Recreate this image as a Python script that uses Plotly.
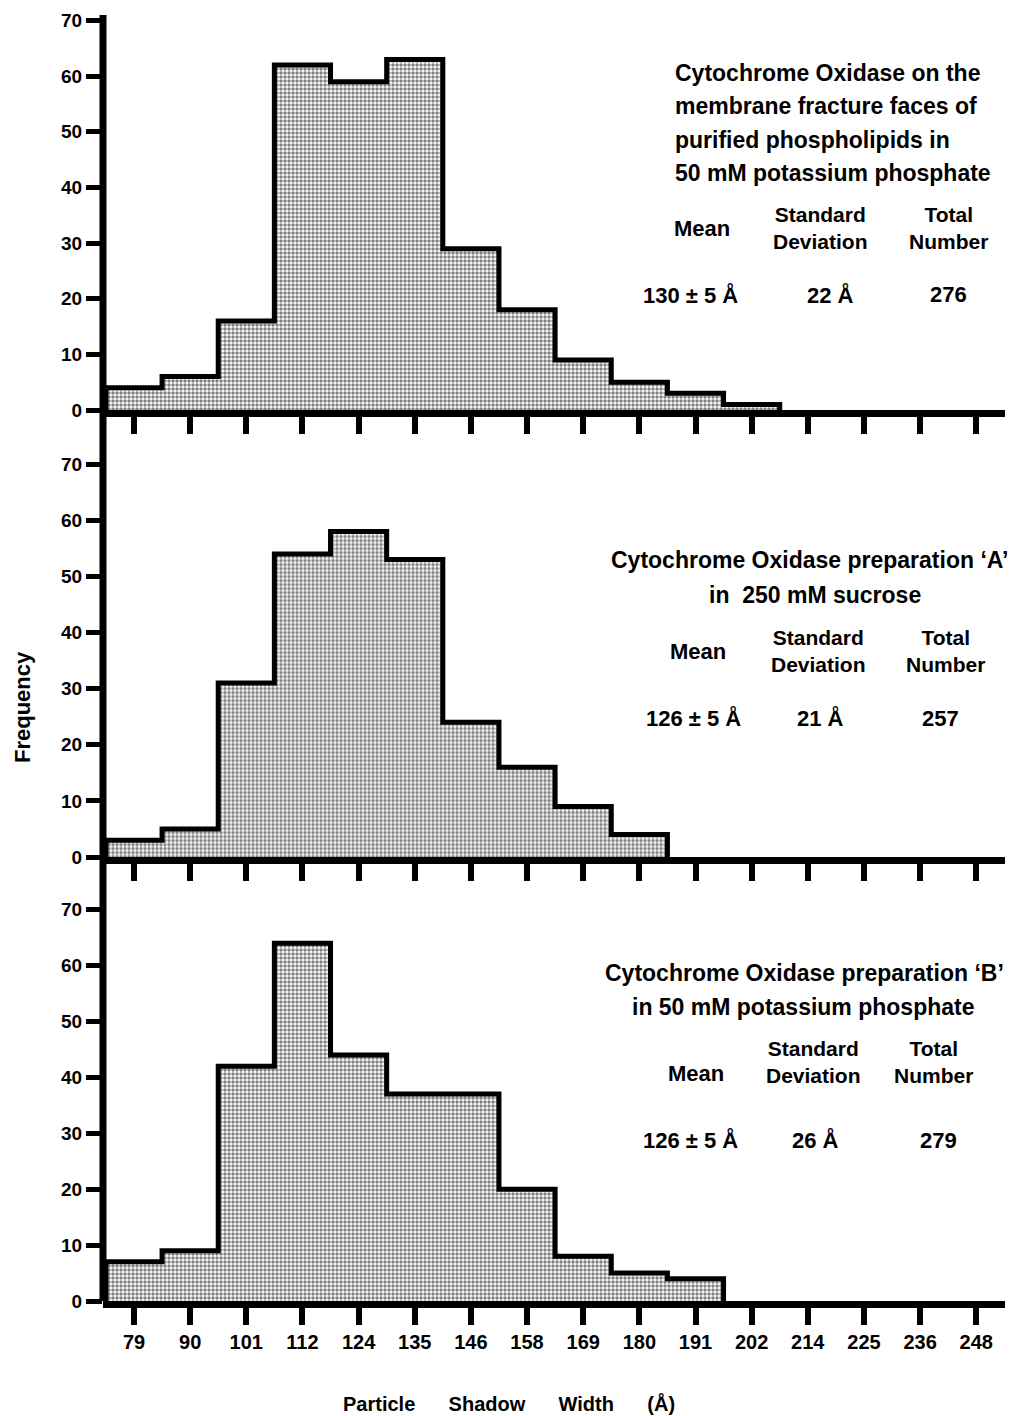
import plotly.graph_objects as go

# ---------------- data ----------------
bin_labels = ["79", "90", "101", "112", "124", "135", "146", "158",
              "169", "180", "191", "202", "214", "225", "236", "248"]

freq_lipid = [4, 6, 16, 62, 59, 63, 29, 18, 9, 5, 3, 1]          # top panel
freq_prep_A = [3, 5, 31, 54, 58, 53, 24, 16, 9, 4]               # middle panel
freq_prep_B = [7, 9, 42, 64, 44, 37, 37, 20, 8, 5, 4]            # bottom panel

y_tick_values = [0, 10, 20, 30, 40, 50, 60, 70]

# ---------------- layout helpers ----------------
W, H = 1011, 1416
L, R, T, B = 103, 1005, 15, 1301          # plot area in px
FONT = "Liberation Sans, Arial, Helvetica, sans-serif"


def P(px, py):
    return (px - L) / (R - L), (B - py) / (B - T)


def step_xy(vals):
    xs, ys = [-0.5], [0]
    for i, v in enumerate(vals):
        xs += [i - 0.5, i + 0.5]
        ys += [v, v]
    xs.append(len(vals) - 0.5)
    ys.append(0)
    return xs, ys


panels = [freq_lipid, freq_prep_A, freq_prep_B]
domains = [[(B - 410) / (B - T), 1.0],
           [(B - 857) / (B - T), (B - 458.6) / (B - T)],
           [0.0, (B - 904) / (B - T)]]

fig = go.Figure()
for k, vals in enumerate(panels, start=1):
    xs, ys = step_xy(vals)
    fig.add_trace(go.Scatter(
        x=xs, y=ys, mode="lines", fill="tozeroy",
        line=dict(color="black", width=5),
        fillcolor="white",
        fillpattern=dict(shape=".", fgcolor="black", bgcolor="white",
                         size=4, solidity=0.58),
        xaxis="x" if k == 1 else f"x{k}",
        yaxis="y" if k == 1 else f"y{k}",
        showlegend=False, hoverinfo="skip"))

layout = dict(width=W, height=H, plot_bgcolor="white", paper_bgcolor="white",
              margin=dict(l=L, r=W - R, t=T, b=H - B), showlegend=False)

for k in range(1, 4):
    xn = "xaxis" if k == 1 else f"xaxis{k}"
    yn = "yaxis" if k == 1 else f"yaxis{k}"
    layout[xn] = dict(
        domain=[0, 1], range=[-0.552, 15.512], anchor="y" if k == 1 else f"y{k}",
        showline=True, linewidth=7, linecolor="black",
        ticks="outside", ticklen=17, tickwidth=6, tickcolor="black",
        tickvals=list(range(len(bin_labels))), ticktext=bin_labels,
        showticklabels=(k == 3),
        tickfont=dict(family=FONT, size=20, color="black", weight="bold"),
        showgrid=False, zeroline=False, fixedrange=True)
    layout[yn] = dict(
        domain=domains[k - 1], range=[0, 71], anchor="x" if k == 1 else f"x{k}",
        showline=False, ticks="outside", ticklen=16, tickwidth=5, tickcolor="black",
        tickvals=y_tick_values,
        tickfont=dict(family=FONT, size=19, color="black", weight="bold"),
        showgrid=False, zeroline=False, fixedrange=True)

fig.update_layout(**layout)

# continuous vertical axis line through all three panels
fig.add_shape(type="line", xref="paper", yref="paper", x0=0, x1=0, y0=0, y1=1,
              line=dict(color="black", width=7))

annos = []


def txt(s, px, py, size=22, xanchor="center", angle=0):
    x, y = P(px, py)
    annos.append(dict(text=s, x=x, y=y, xref="paper", yref="paper",
                      xanchor=xanchor, yanchor="middle", showarrow=False,
                      textangle=angle,
                      font=dict(family=FONT, size=size, color="black", weight="bold")))


# panel 1 text
for line, py in zip(["Cytochrome Oxidase on the", "membrane fracture faces of",
                     "purified phospholipids in", "50 mM potassium phosphate"],
                    [73, 106, 140, 173]):
    txt(line, 673, py, size=23, xanchor="left")
txt("Mean", 702, 228)
txt("Standard<br>Deviation", 820, 228, size=21)
txt("Total<br>Number", 948, 228, size=21)
txt("130 ± 5 Å", 690, 295)
txt("22 Å", 830, 295)
txt("276", 948, 295)

# panel 2 text
txt("Cytochrome Oxidase preparation ‘A’", 810, 560, size=23)
txt("in  250 mM sucrose", 815, 595, size=23)
txt("Mean", 698, 651)
txt("Standard<br>Deviation", 818, 651, size=21)
txt("Total<br>Number", 945, 651, size=21)
txt("126 ± 5 Å", 693, 718)
txt("21 Å", 820, 718)
txt("257", 940, 718)

# panel 3 text
txt("Cytochrome Oxidase preparation ‘B’", 804, 973, size=23)
txt("in 50 mM potassium phosphate", 803, 1007, size=23)
txt("Standard<br>Deviation", 813, 1062, size=21)
txt("Mean", 696, 1073)
txt("Total<br>Number", 933, 1062, size=21)
txt("126 ± 5 Å", 690, 1140)
txt("26 Å", 815, 1140)
txt("279", 938, 1140)

# axis titles
sp = "\u00a0" * 6
txt(f"Particle{sp}Shadow{sp}Width{sp}(Å)", 509, 1403, size=20)
txt("Frequency", 22, 707, size=22, angle=-90)

fig.update_layout(annotations=annos)
fig.write_html("out.html",
               config={"displayModeBar": False},
               post_script="document.body.style.margin='0';document.body.style.overflow='hidden';")
